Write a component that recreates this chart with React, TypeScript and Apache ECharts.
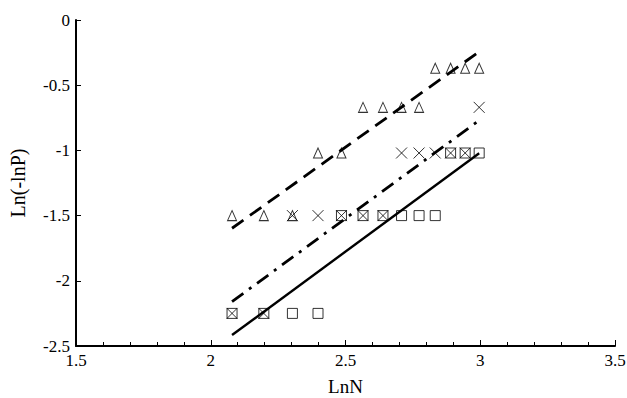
import React, { useEffect, useRef } from "react";
import * as echarts from "echarts";

const lnN = [2.079, 2.197, 2.303, 2.398, 2.485, 2.565, 2.639, 2.708, 2.773, 2.833, 2.89, 2.944, 2.996];
const triangleY = [-1.5, -1.5, -1.5, -1.02, -1.02, -0.67, -0.67, -0.67, -0.67, -0.37, -0.37, -0.37, -0.37];
const crossY = [-2.25, -2.25, -1.5, -1.5, -1.5, -1.5, -1.5, -1.02, -1.02, -1.02, -1.02, -1.02, -0.67];
const squareY = [-2.25, -2.25, -2.25, -2.25, -1.5, -1.5, -1.5, -1.5, -1.5, -1.5, -1.02, -1.02, -1.02];

const fitX = [2.079, 2.996];
const fitTriangle = [-1.597, -0.243];
const fitCross = [-2.16, -0.77];
const fitSquare = [-2.416, -1.022];

const xTickLabels = ["1.5", "2", "2.5", "3", "3.5"];
const yTickLabels = ["-2.5", "-2", "-1.5", "-1", "-0.5", "0"];

const FONT = "Liberation Serif";

export default function App() {
  const ref = useRef<HTMLDivElement>(null);
  useEffect(() => {
    if (!ref.current) return;
    const chart = echarts.init(ref.current, undefined, { renderer: "svg" });
    const pts = (ys: number[]) => lnN.map((x, i) => [x, ys[i]]);
    const fit = (ys: number[]) => fitX.map((x, i) => [x, ys[i]]);
    const hollow = { color: "rgba(0,0,0,0)", borderColor: "#000", borderWidth: 1 };
    chart.setOption({
      animation: false,
      backgroundColor: "#fff",
      textStyle: { fontFamily: FONT, color: "#000" },
      grid: { left: 76, right: 12, top: 20, bottom: 52, containLabel: false, outerBoundsMode: "none" },
      xAxis: {
        type: "value",
        min: 1.5,
        max: 3.5,
        interval: 0.5,
        name: "LnN",
        nameLocation: "middle",
        nameGap: 30,
        nameTextStyle: { fontFamily: FONT, fontSize: 19, color: "#000", lineHeight: 20 },
        axisLine: { onZero: false, lineStyle: { color: "#000", width: 2 } },
        axisTick: { inside: true, length: 6, lineStyle: { color: "#000", width: 1 } },
        minorTick: { show: true, splitNumber: 5, length: 4, lineStyle: { color: "#000", width: 1 } },
        axisLabel: {
          fontFamily: FONT,
          fontSize: 17,
          color: "#000",
          margin: 6,
          formatter: (v: number) => xTickLabels[Math.round((v - 1.5) / 0.5)] ?? String(v),
        },
        splitLine: { show: false },
      },
      yAxis: {
        type: "value",
        min: -2.5,
        max: 0,
        interval: 0.5,
        name: "Ln(-lnP)",
        nameLocation: "middle",
        nameGap: 48,
        nameTextStyle: { fontFamily: FONT, fontSize: 20, color: "#000" },
        axisLine: { onZero: false, lineStyle: { color: "#000", width: 2 } },
        axisTick: { inside: true, length: 5, lineStyle: { color: "#000", width: 1 } },
        axisLabel: {
          fontFamily: FONT,
          fontSize: 17,
          color: "#000",
          margin: 6,
          formatter: (v: number) => yTickLabels[Math.round((v + 2.5) / 0.5)] ?? String(v),
        },
        splitLine: { show: false },
      },
      series: [
        {
          type: "line",
          data: fit(fitTriangle),
          showSymbol: false,
          symbol: "none",
          lineStyle: { color: "#000", width: 2.8, type: [14, 8] },
        },
        {
          type: "line",
          data: fit(fitCross),
          showSymbol: false,
          symbol: "none",
          lineStyle: { color: "#000", width: 2.8, type: [14, 7, 3, 7] },
        },
        {
          type: "line",
          data: fit(fitSquare),
          showSymbol: false,
          symbol: "none",
          lineStyle: { color: "#000", width: 2.4 },
        },
        {
          type: "scatter",
          data: pts(triangleY),
          symbol: "triangle",
          symbolSize: [9, 10],
          itemStyle: hollow,
        },
        {
          type: "scatter",
          data: pts(crossY),
          symbol: "path://M0,0L10,10M10,0L0,10",
          symbolSize: 11,
          itemStyle: hollow,
        },
        {
          type: "scatter",
          data: pts(squareY),
          symbol: "rect",
          symbolSize: 10,
          itemStyle: hollow,
        },
      ],
    });
    return () => chart.dispose();
  }, []);
  return (
    <div
      ref={ref}
      style={{ position: "fixed", left: 0, top: 0, width: 627, height: 398, background: "#fff" }}
    />
  );
}
